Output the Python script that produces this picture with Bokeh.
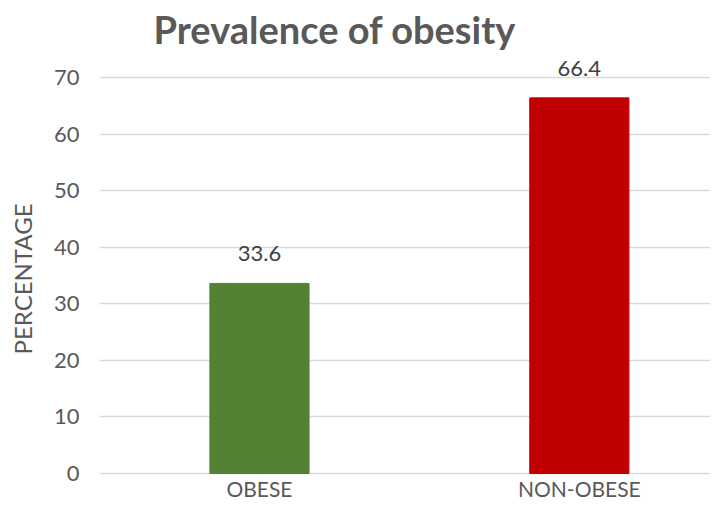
from bokeh.plotting import figure
from bokeh.models import ColumnDataSource, Range1d, FixedTicker, LabelSet
from bokeh.core.properties import value
from bokeh.embed import file_html
from bokeh.resources import INLINE

categories = ["OBESE", "NON-OBESE"]
values = [33.6, 66.4]
colors = ["#548235", "#C00000"]
y_ticks = [0, 10, 20, 30, 40, 50, 60, 70]

xs = list(range(len(categories)))
src = ColumnDataSource(dict(x=xs, top=values, color=colors, cat=categories,
                            label=[f"{v:.1f}" for v in values]))

FONT = "Lato"
GREY = "#595959"

W, H = 710, 502
# frame: top at 55, bottom at 502 ; 0 at 473, 70 at 77
PX = (473 - 77) / 70.0
frame_top = 55

p = figure(width=W, height=H, output_backend="svg", toolbar_location=None,
           x_range=Range1d(-0.5, 1.41),
           y_range=Range1d(-(H - 473) / PX, 70 + (77 - frame_top) / PX),
           min_border_left=99, min_border_right=0, min_border_bottom=0,
           min_border_top=frame_top)
p.title.text = "Prevalence of obesity"
p.title.text_font = FONT
p.title.text_font_size = "38px"
p.title.text_font_style = "bold"
p.title.text_color = GREY
p.title.align = "left"
p.title.vertical_align = "top"
p.title.offset = 54
p.title.standoff = 4

p.vbar(x="x", top="top", width=0.31, bottom=0, color="color", source=src)

labels = LabelSet(x="x", y="top", text="label", source=src, text_align="center",
                  text_baseline="alphabetic", y_offset=22, text_font_size="22px",
                  text_color="#404040", text_font=value(FONT))
p.add_layout(labels)

cats = LabelSet(x="x", y=0, text="cat", source=src, text_align="center",
                text_baseline="alphabetic", y_offset=-23, text_font_size="21px",
                text_color=GREY, text_font=value(FONT))
p.add_layout(cats)

p.outline_line_color = None
p.xgrid.grid_line_color = None
p.ygrid.grid_line_color = "#d9d9d9"
p.ygrid.grid_line_width = 1.3
p.yaxis.ticker = FixedTicker(ticks=y_ticks)
p.xaxis.visible = False

ya = p.yaxis[0]
ya.axis_line_color = None
ya.major_tick_line_color = None
ya.minor_tick_line_color = None
ya.major_tick_out = 0
ya.minor_tick_out = 0
ya.major_label_text_font = FONT
ya.major_label_text_color = GREY
ya.major_label_text_font_size = "22px"
ya.major_label_standoff = 20
ya.axis_label = "PERCENTAGE"
ya.axis_label_text_font = FONT
ya.axis_label_text_font_style = "normal"
ya.axis_label_text_font_size = "24px"
ya.axis_label_text_color = GREY
ya.axis_label_standoff = 14

open("out.html", "w").write(file_html(p, INLINE))
